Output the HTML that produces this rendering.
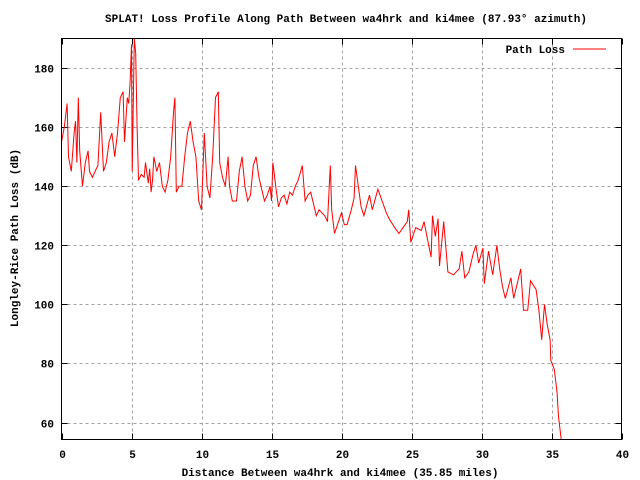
<!DOCTYPE html>
<html><head><meta charset="utf-8"><style>
body{margin:0;background:#fff}
svg{display:block;font-family:"Liberation Mono",monospace;font-weight:bold;font-size:11px}
</style></head><body>
<svg id="c" width="640" height="480">
<text x="346" y="22" text-anchor="middle">SPLAT! Loss Profile Along Path Between wa4hrk and ki4mee (87.93° azimuth)</text>
<text x="340" y="476" text-anchor="middle">Distance Between wa4hrk and ki4mee (35.85 miles)</text>
<text transform="translate(18,238) rotate(-90)" text-anchor="middle">Longley-Rice Path Loss (dB)</text>
<g id="grid"></g><g id="ticks"></g>
<clipPath id="cp"><rect x="62" y="38" width="560" height="401"/></clipPath>
<polyline id="series" clip-path="url(#cp)" fill="none" stroke="#f00" stroke-width="1"/>
<rect x="61.5" y="38.5" width="560" height="401" fill="none" stroke="#000"/>
<g>
<text x="565" y="53" text-anchor="end">Path Loss</text>
<line x1="573" y1="49" x2="606" y2="49" stroke="#f00"/>
</g>
</svg>
<script>
const xTicks=[0,5,10,15,20,25,30,35,40];
const yTicks=[60,80,100,120,140,160,180];
const dist=[0,0.2,0.4,0.5,0.7,0.9,1.0,1.1,1.2,1.3,1.5,1.7,1.9,2.0,2.2,2.4,2.6,2.8,3.0,3.2,3.4,3.6,3.8,4.0,4.2,4.4,4.5,4.7,4.8,4.9,5.0,5.05,5.2,5.3,5.4,5.5,5.7,5.9,6.0,6.2,6.3,6.4,6.5,6.6,6.8,7.0,7.2,7.4,7.6,7.8,8.0,8.1,8.2,8.4,8.6,8.8,9.0,9.2,9.4,9.6,9.8,10.0,10.2,10.4,10.6,10.8,11.0,11.2,11.3,11.5,11.7,11.9,12.0,12.2,12.5,12.7,12.9,13.1,13.3,13.5,13.7,13.9,14.1,14.3,14.5,14.7,14.9,15.0,15.1,15.3,15.5,15.7,15.9,16.1,16.3,16.5,16.7,16.9,17.2,17.4,17.6,17.8,18.0,18.2,18.4,18.6,18.8,19.0,19.2,19.3,19.5,20.0,20.2,20.4,20.7,20.9,21.0,21.2,21.4,21.6,22.0,22.2,22.6,22.9,23.2,23.4,23.8,24.1,24.4,24.7,24.8,24.95,25.3,25.7,25.9,26.1,26.4,26.5,26.7,26.9,27.0,27.3,27.6,28.0,28.4,28.6,28.8,29.1,29.4,29.6,29.8,30.1,30.2,30.5,30.8,31.1,31.3,31.5,31.7,32.1,32.3,32.6,32.8,33.0,33.3,33.5,33.9,34.1,34.3,34.5,34.7,34.9,34.95,35.2,35.4,35.5,35.7];
const loss=[155,160,168,150,145,158,162,148,170,152,140,148,152,145,143,145,147,165,145,148,155,158,150,158,170,172,155,170,168,175,188,145,190,185,160,142,144,143,148,141,146,138,142,150,145,148,140,138,142,150,165,170,138,140,140,150,158,162,155,150,135,132,158,140,136,150,170,172,148,143,140,150,140,135,135,145,150,140,135,137,147,150,143,139,135,137,140,135,148,140,133,136,137,134,138,137,140,142,147,135,137,138,134,130,132,131,130,128,147,132,124,131,127,127,132,136,147,140,133,130,137,132,139,135,131,129,126,124,126,128,132,121,126,125,128,123,116,130,123,129,113,128,111,110,112,118,109,111,117,120,114,119,107,118,110,120,112,106,102,109,102,108,112,98,98,108,105,98,88,100,93,88,81,78,70,62,54];
const X0=61.5,X1=621.5,XMIN=0,XMAX=40,Y0=439.5,Y1=38.5,YMIN=54.25,YMAX=190;
const sx=v=>X0+(v-XMIN)/(XMAX-XMIN)*(X1-X0);
const sy=v=>Y0-(v-YMIN)/(YMAX-YMIN)*(Y0-Y1);
const NS="http://www.w3.org/2000/svg";
const grid=document.getElementById('grid'),tk=document.getElementById('ticks');
function mk(p,tag,a){const e=document.createElementNS(NS,tag);for(const k in a)e.setAttribute(k,a[k]);p.appendChild(e);return e;}
xTicks.forEach(v=>{const x=Math.round(sx(v))+0.5;
 if(v>0&&v<40){const g=mk(grid,'line',{x1:x,x2:x,y1:Y1,y2:Y0,stroke:'#a0a0a0','stroke-dasharray':'3,3'});
 
 }
 mk(tk,'line',{x1:x,x2:x,y1:Y0,y2:Y0-6,stroke:'#000'});mk(tk,'line',{x1:x,x2:x,y1:Y1,y2:Y1+6,stroke:'#000'});
 const t=mk(tk,'text',{x:x,y:458,'text-anchor':'middle'});t.textContent=v;
 
 });
yTicks.forEach(v=>{const y=Math.round(sy(v))+0.5;
 const g=mk(grid,'line',{x1:X0,x2:X1,y1:y,y2:y,stroke:'#a0a0a0','stroke-dasharray':'3,3'});
 
 
 mk(tk,'line',{x1:X0,x2:X0+6,y1:y,y2:y,stroke:'#000'});mk(tk,'line',{x1:X1,x2:X1-6,y1:y,y2:y,stroke:'#000'});
 const t=mk(tk,'text',{x:54,y:y+4,'text-anchor':'end'});t.textContent=v;
 
 });
document.getElementById('series').setAttribute('points',dist.map((d,i)=>sx(d).toFixed(1)+','+sy(loss[i]).toFixed(1)).join(' '));
</script>
</body></html>
